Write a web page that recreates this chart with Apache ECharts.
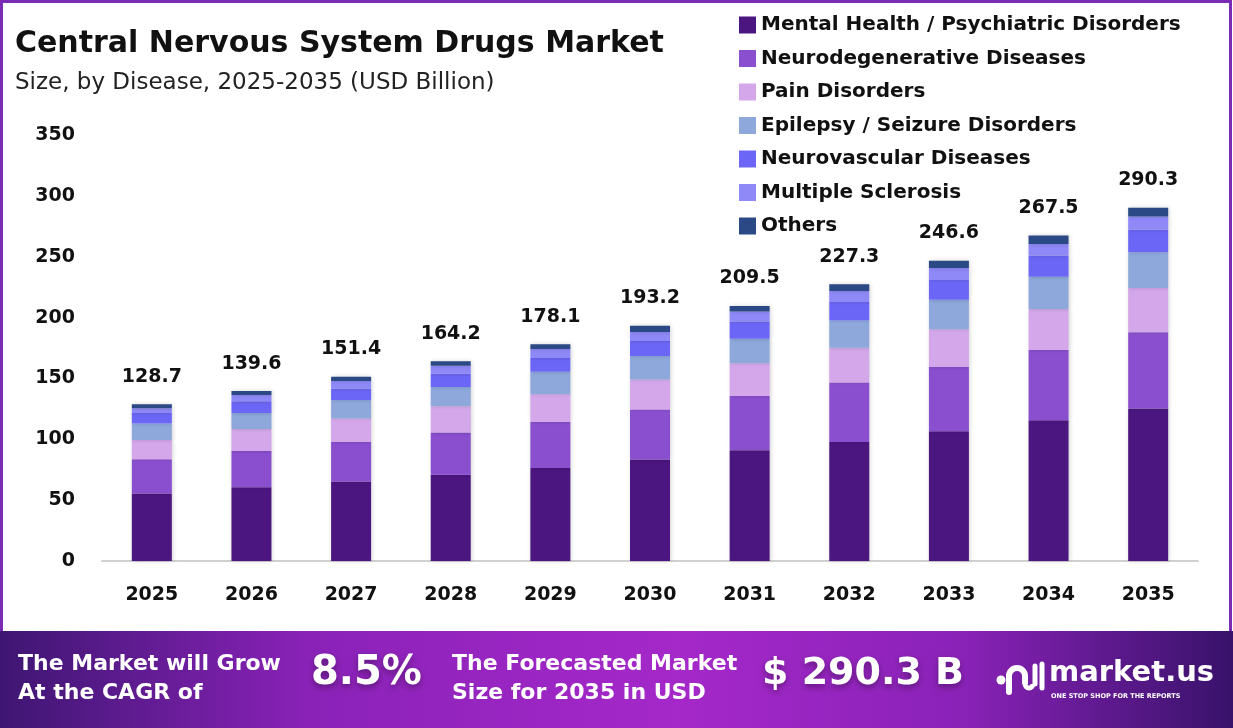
<!DOCTYPE html>
<html>
<head>
<meta charset="utf-8">
<title>Central Nervous System Drugs Market</title>
<script src="https://cdn.jsdelivr.net/npm/echarts@6/dist/echarts.min.js"></script>
<style>
  html, body { margin: 0; padding: 0; background: #fff; }
  #chart { width: 1233px; height: 728px; }
</style>
</head>
<body>
<div id="chart"></div>
<script>
// data (USD billion)
const years = ['2025', '2026', '2027', '2028', '2029', '2030', '2031', '2032', '2033', '2034', '2035'];
const totals = ['128.7', '139.6', '151.4', '164.2', '178.1', '193.2', '209.5', '227.3', '246.6', '267.5', '290.3'];

const mentalHealth    = [55.5, 60.5, 65.4, 70.9, 76.5, 83.3, 91.0, 97.8, 106.6, 115.7, 125.3];
const neurodegenerative = [28.1, 29.8, 32.5, 34.6, 37.7, 41.2, 44.5, 48.9, 52.8, 57.7, 62.7];
const painDisorders   = [15.8, 18.1, 19.2, 21.7, 22.8, 24.7, 27.0, 28.6, 31.1, 33.6, 36.3];
const epilepsy        = [13.5, 13.2, 15.1, 15.7, 18.4, 19.2, 20.0, 22.3, 24.2, 26.6, 29.4];
const neurovascular   = [8.6, 9.6, 9.6, 11.0, 11.3, 12.4, 14.3, 15.1, 16.2, 17.3, 18.4];
const multipleSclerosis = [4.0, 5.2, 6.0, 6.5, 7.4, 7.4, 8.2, 9.1, 9.9, 9.6, 11.0];
const others          = [3.2, 3.2, 3.6, 3.8, 4.0, 5.0, 4.5, 5.5, 5.8, 7.0, 7.2];

const seriesNames = [
  'Mental Health / Psychiatric Disorders',
  'Neurodegenerative Diseases',
  'Pain Disorders',
  'Epilepsy / Seizure Disorders',
  'Neurovascular Diseases',
  'Multiple Sclerosis',
  'Others'
];
const seriesData = [mentalHealth, neurodegenerative, painDisorders, epilepsy, neurovascular, multipleSclerosis, others];
const colors = ['#4c1681', '#8a4fcf', '#d4a7ea', '#8ea8dc', '#6c66f6', '#8f88f7', '#2a4985'];

const FONT = '"DejaVu Sans", Inter, sans-serif';

const chart = echarts.init(document.getElementById('chart'));

const series = seriesNames.map(function (name, i) {
  const s = {
    name: name,
    type: 'bar',
    stack: 'total',
    barWidth: 40,
    data: seriesData[i],
    itemStyle: {
      color: colors[i],
      shadowColor: 'rgba(0,0,0,0.18)',
      shadowBlur: 4,
      shadowOffsetX: 1
    },
    emphasis: { disabled: true }
  };
  if (i === seriesNames.length - 1) {
    s.label = {
      show: true,
      position: 'top',
      distance: 18,
      formatter: function (p) { return totals[p.dataIndex]; },
      color: '#111',
      fontFamily: FONT,
      fontWeight: 'bold',
      fontSize: 19
    };
  }
  return s;
});

function bannerText(txt) {
  return {
    text: txt,
    fill: '#fff',
    fontFamily: FONT,
    fontWeight: 'bold',
    fontSize: 22,
    lineHeight: 29
  };
}

var option = {
  animation: false,
  color: colors,
  title: {
    text: 'Central Nervous System Drugs Market',
    subtext: 'Size, by Disease, 2025-2035 (USD Billion)',
    left: 10,
    top: 24,
    itemGap: 13,
    textStyle: { fontFamily: FONT, fontWeight: 'bold', fontSize: 30, color: '#111' },
    subtextStyle: { fontFamily: FONT, fontSize: 23, color: '#222' }
  },
  legend: {
    orient: 'vertical',
    left: 734,
    top: 10,
    itemWidth: 17,
    itemHeight: 17,
    itemGap: 13.5,
    icon: 'rect',
    textStyle: { fontFamily: FONT, fontWeight: 'bold', fontSize: 20, color: '#111' },
    data: seriesNames
  },
  grid: {
    left: 102,
    right: 35,
    top: 135,
    bottom: 167,
    containLabel: false
  },
  xAxis: {
    type: 'category',
    data: years,
    axisLine: { lineStyle: { color: '#d0d0d0', width: 2 } },
    axisTick: { show: false },
    axisLabel: {
      margin: 25,
      fontFamily: FONT,
      fontWeight: 'bold',
      fontSize: 19,
      color: '#111'
    }
  },
  yAxis: {
    type: 'value',
    min: 0,
    max: 350,
    interval: 50,
    splitLine: { show: false },
    axisLine: { show: false },
    axisTick: { show: false },
    axisLabel: {
      margin: 27,
      fontFamily: FONT,
      fontWeight: 'bold',
      fontSize: 19,
      color: '#111'
    }
  },
  graphic: [
    {
      type: 'rect',
      z: 0,
      shape: { x: 1.5, y: 1.5, width: 1229, height: 640 },
      style: { fill: 'none', stroke: '#7a2db4', lineWidth: 3 }
    },
    {
      type: 'rect',
      z: 10,
      shape: { x: 0, y: 631, width: 1233, height: 97 },
      style: {
        fill: new echarts.graphic.LinearGradient(0, 0, 1, 0, [
          { offset: 0, color: '#3e1672' },
          { offset: 0.25, color: '#8a22b8' },
          { offset: 0.55, color: '#a528c9' },
          { offset: 0.78, color: '#8a22b8' },
          { offset: 1, color: '#38126a' }
        ])
      }
    },
    {
      type: 'text',
      z: 11,
      x: 18,
      y: 650,
      style: bannerText('The Market will Grow\nAt the CAGR of')
    },
    {
      type: 'text',
      z: 11,
      x: 311,
      y: 654,
      style: {
        text: '8.5%',
        fill: '#fff',
        fontFamily: FONT,
        fontWeight: 'bold',
        fontSize: 40,
        textShadowColor: 'rgba(0,0,0,0.35)',
        textShadowBlur: 6,
        textShadowOffsetY: 3
      }
    },
    {
      type: 'text',
      z: 11,
      x: 452,
      y: 650,
      style: bannerText('The Forecasted Market\nSize for 2035 in USD')
    },
    {
      type: 'text',
      z: 11,
      x: 762,
      y: 655,
      style: {
        text: '$ 290.3 B',
        fill: '#fff',
        fontFamily: FONT,
        fontWeight: 'bold',
        fontSize: 38,
        textShadowColor: 'rgba(0,0,0,0.35)',
        textShadowBlur: 6,
        textShadowOffsetY: 3
      }
    },
    // market.us logo mark
    { type: 'circle', z: 11, shape: { cx: 1001, cy: 680, r: 4.5 }, style: { fill: '#fff' } },
    {
      type: 'arc', z: 11,
      shape: { cx: 1017, cy: 676, r: 8, startAngle: Math.PI, endAngle: Math.PI * 2, clockwise: true },
      style: { stroke: '#fff', lineWidth: 6, fill: 'none' }
    },
    { type: 'line', z: 11, shape: { x1: 1009, y1: 676, x2: 1009, y2: 692 }, style: { stroke: '#fff', lineWidth: 6, lineCap: 'round' } },
    { type: 'line', z: 11, shape: { x1: 1025, y1: 676, x2: 1025, y2: 684 }, style: { stroke: '#fff', lineWidth: 6 } },
    {
      type: 'arc', z: 11,
      shape: { cx: 1029, cy: 684, r: 4, startAngle: Math.PI, endAngle: 0, clockwise: false },
      style: { stroke: '#fff', lineWidth: 5, fill: 'none' }
    },
    { type: 'line', z: 11, shape: { x1: 1035, y1: 666, x2: 1035, y2: 684 }, style: { stroke: '#fff', lineWidth: 5, lineCap: 'round' } },
    { type: 'line', z: 11, shape: { x1: 1042, y1: 664, x2: 1042, y2: 688 }, style: { stroke: '#fff', lineWidth: 5, lineCap: 'round' } },
    {
      type: 'text',
      z: 11,
      x: 1049,
      y: 659,
      style: {
        text: 'market.us',
        fill: '#fff',
        fontFamily: FONT,
        fontWeight: 'bold',
        fontSize: 29
      }
    },
    {
      type: 'text',
      z: 11,
      x: 1051,
      y: 693,
      style: {
        text: 'ONE STOP SHOP FOR THE REPORTS',
        fill: '#fff',
        fontFamily: FONT,
        fontWeight: 'bold',
        fontSize: 6.5
      }
    }
  ],
  series: series
};

chart.setOption(option);
</script>
</body>
</html>
